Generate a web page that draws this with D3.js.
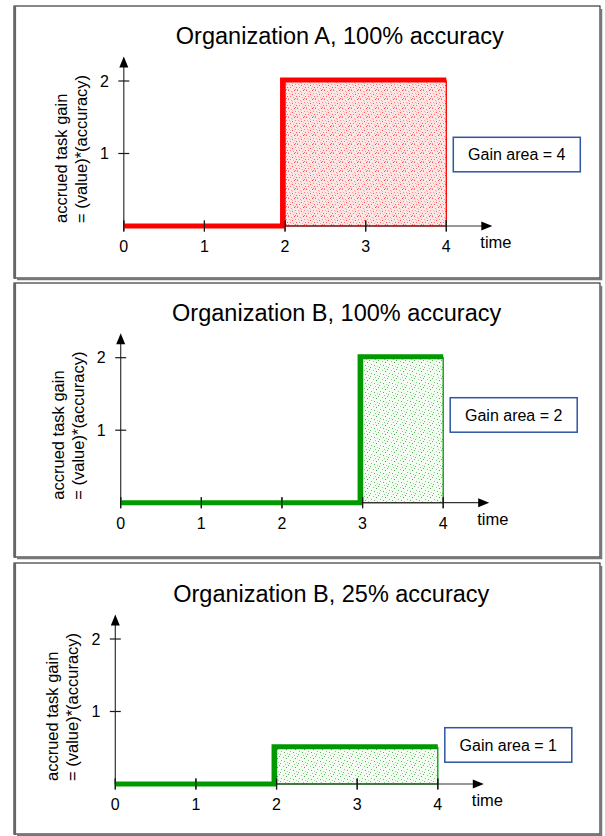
<!DOCTYPE html>
<html><head><meta charset="utf-8">
<script src="https://cdn.jsdelivr.net/npm/d3@7"></script>
<style>
html,body{margin:0;padding:0;background:#fff;}
svg{display:block;font-family:"Liberation Sans",Arial,sans-serif;}
</style></head>
<body>
<svg id="chart" width="605" height="836"></svg>
<script>
// ---- data ----
const panelTitles = ["Organization A, 100% accuracy", "Organization B, 100% accuracy", "Organization B, 25% accuracy"];
const stepStart = [2, 3, 2];          // time at which gain begins
const stepEnd = [4, 4, 4];            // end time
const gainLevel = [2, 2, 0.5];        // (value)*(accuracy)
const gainAreaLabels = ["Gain area = 4", "Gain area = 2", "Gain area = 1"];
const timeTicks = [0, 1, 2, 3, 4];
const gainTicks = [1, 2];
const yTitleLines = ["accrued task gain", "= (value)*(accuracy)"];
const xTitle = "time";
const timeDomain = [0, 4];
const gainDomain = [0, 2];

// ---- layout / style ----
const W = 605, H = 836;
const panelLeft = 14, panelRight = 600;
const panelTop = [6, 283, 563], panelBottom = [278, 557, 834];
const originX = [123.8, 120.7, 115.3];
const originY = [226, 502.7, 784];
const xLen = 322.5, yLen = 145;
const boxTopOff = [-88.7, -105, -56.3];
const lineColor = ["#ff0000", "#009900", "#009900"];
const patternId = ["redDots", "greenDots", "greenDots"];

const svg = d3.select("#chart");
const defs = svg.append("defs");

// patterns (texture only)
function makePattern(id, bg, dots) {
  const p = defs.append("pattern").attr("id", id).attr("patternUnits", "userSpaceOnUse")
    .attr("width", 9).attr("height", 9);
  p.append("rect").attr("width", 9).attr("height", 9).attr("fill", bg);
  dots.forEach(d => p.append("rect").attr("x", d[0]).attr("y", d[1]).attr("width", 1).attr("height", 1).attr("fill", d[2]));
}
makePattern("redDots", "#fde6e6", [
  [0,0,"#ff6060"],[3,1,"#ff9090"],[6,0,"#ff4040"],[1,3,"#ffa0a0"],[4,4,"#ff5050"],[7,3,"#ff8080"],
  [2,6,"#ff7070"],[5,7,"#ffa0a0"],[8,6,"#ff5a5a"],[0,8,"#ff9a9a"],[4,2,"#ffb0b0"],[7,8,"#ff6a6a"],[2,4,"#ffc0c0"],[6,5,"#ffb8b8"]
]);
makePattern("greenDots", "#f3fbf3", [
  [0,0,"#55bb55"],[4,1,"#88d088"],[7,2,"#44aa44"],[2,4,"#77c877"],[5,5,"#55bb55"],[8,6,"#99d899"],
  [1,7,"#66c066"],[6,8,"#88cc88"]
]);

panelTitles.forEach((title, i) => {
  const g = svg.append("g");
  const x0 = originX[i], y0 = originY[i];
  const x = d3.scaleLinear().domain(timeDomain).range([x0, x0 + xLen]);
  const y = d3.scaleLinear().domain(gainDomain).range([y0, y0 - yLen]);

  // panel frame
  g.append("rect").attr("x", panelLeft).attr("y", panelTop[i])
    .attr("width", panelRight - panelLeft).attr("height", panelBottom[i] - panelTop[i])
    .attr("fill", "#fff").attr("stroke", "#111").attr("stroke-width", 1);
  g.append("path").attr("d", `M${panelLeft + 1},${panelTop[i]} V${panelBottom[i] + 1}`)
    .attr("stroke", "#666").attr("stroke-width", 2.2);
  g.append("path").attr("d", `M${panelLeft + 3},${panelBottom[i] + 1} H${panelRight + 1} V${panelTop[i] + 3}`)
    .attr("fill", "none").attr("stroke", "#777").attr("stroke-width", 2.5);

  // title
  g.append("text").attr("x", x0 + 216).attr("y", y0 - 182).attr("text-anchor", "middle")
    .attr("font-size", 23.5).attr("fill", "#000").text(title);

  // filled gain area
  const col = lineColor[i];
  g.append("rect")
    .attr("x", x(stepStart[i])).attr("y", y(gainLevel[i]))
    .attr("width", x(stepEnd[i]) - x(stepStart[i])).attr("height", y(0) - y(gainLevel[i]))
    .attr("fill", `url(#${patternId[i]})`).attr("stroke", col).attr("stroke-width", 1.3);

  // axes
  const axisCol = "#1a1a1a";
  g.append("line").attr("x1", x0).attr("x2", x(timeDomain[1]) + 40).attr("y1", y0).attr("y2", y0)
    .attr("stroke", "#333").attr("stroke-width", 1.2);
  g.append("path").attr("d", `M${x(timeDomain[1]) + 46},${y0} l-11,-4.5 v9 z`).attr("fill", "#000");
  g.append("line").attr("x1", x0).attr("x2", x0).attr("y1", y0).attr("y2", y(gainDomain[1]) - 18)
    .attr("stroke", "#333").attr("stroke-width", 1.2);
  g.append("path").attr("d", `M${x0},${y(gainDomain[1]) - 24.5} l-4.5,11 h9 z`).attr("fill", "#000");

  // x ticks
  timeTicks.forEach(t => {
    g.append("line").attr("x1", x(t)).attr("x2", x(t)).attr("y1", y0 - 5.5).attr("y2", y0 + 5.5)
      .attr("stroke", axisCol).attr("stroke-width", 1.2);
    g.append("text").attr("x", x(t)).attr("y", y0 + 26).attr("text-anchor", "middle")
      .attr("font-size", 16).attr("fill", "#000").text(t);
  });
  // y ticks
  gainTicks.forEach(v => {
    g.append("line").attr("x1", x0 - 5.5).attr("x2", x0 + 5.5).attr("y1", y(v)).attr("y2", y(v))
      .attr("stroke", axisCol).attr("stroke-width", 1.2);
    g.append("text").attr("x", x0 - 15).attr("y", y(v)).attr("dy", "0.36em").attr("text-anchor", "end")
      .attr("font-size", 16).attr("fill", "#000").text(v);
  });

  // step line
  const lw = 5;
  const xs = x(stepStart[i]) - lw / 2;
  g.append("path")
    .attr("d", `M${x(0)},${y(0)} H${xs} V${y(gainLevel[i]) - 1} H${x(stepEnd[i])}`)
    .attr("fill", "none").attr("stroke", col).attr("stroke-width", lw).attr("stroke-linejoin", "miter");
  // re-draw tick marks over line (they appear on top in reference)
  timeTicks.forEach(t => {
    g.append("line").attr("x1", x(t)).attr("x2", x(t)).attr("y1", y0 - 5.5).attr("y2", y0 + 5.5)
      .attr("stroke", axisCol).attr("stroke-width", 1.2);
  });

  // axis titles
  g.append("text").attr("x", x(timeDomain[1]) + 34).attr("y", y0 + 22)
    .attr("font-size", 16.5).attr("fill", "#000").text(xTitle);
  yTitleLines.forEach((ln, k) => {
    const bx = x0 - 57 + k * 20;
    g.append("text").attr("transform", `translate(${bx},${y0 - 3}) rotate(-90)`)
      .attr("font-size", 16.5).attr("fill", "#000").text(ln);
  });

  // gain area box
  const bx = x(stepEnd[i]) + 7, by = y0 + boxTopOff[i], bw = 127, bh = 34.5;
  g.append("rect").attr("x", bx).attr("y", by).attr("width", bw).attr("height", bh)
    .attr("fill", "#fff").attr("stroke", "#2f55a4").attr("stroke-width", 1.5);
  g.append("text").attr("x", bx + bw / 2).attr("y", by + bh / 2).attr("dy", "0.36em")
    .attr("text-anchor", "middle").attr("font-size", 16).attr("fill", "#000").text(gainAreaLabels[i]);
});
</script>
</body></html>
